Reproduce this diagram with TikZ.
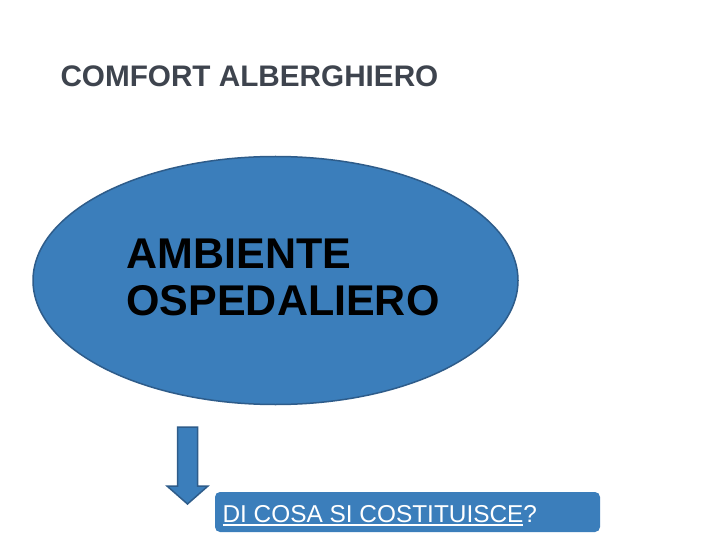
\documentclass[tikz,border=0pt]{standalone}
\usepackage{fontspec}
\setmainfont{Liberation Sans}
\usetikzlibrary{shapes.geometric}
\definecolor{blobfill}{RGB}{59,126,187}
\definecolor{blobline}{RGB}{46,92,138}
\definecolor{titlegray}{RGB}{62,68,78}
\begin{document}
\begin{tikzpicture}[x=1pt,y=-1pt,
  blob/.style={ellipse,fill=blobfill,draw=blobline,line width=1.5pt,inner sep=0pt},
  qbox/.style={rectangle,rounded corners=5pt,fill=blobfill,inner sep=0pt},
  plain/.style={inner sep=0pt,outer sep=0pt}]
\useasboundingbox[fill=white] (0,0) rectangle (720,540);
% title
\node[plain,anchor=base west,text=titlegray,font=\fontsize{29.7}{34}\selectfont\bfseries] (title) at (60.5,87) {COMFORT ALBERGHIERO};
% ellipse
\node[blob,minimum width=485pt,minimum height=248pt] (ell) at (275.5,280.5) {};
\node[plain,anchor=base west,font=\fontsize{43}{47}\selectfont\bfseries] (amb1) at (126.5,268) {AMBIENTE};
\node[plain,anchor=base west,font=\fontsize{43}{47}\selectfont\bfseries] (amb2) at (126.5,315) {OSPEDALIERO};
% arrow
\draw[fill=blobfill,draw=blobline,line width=1.5pt,line join=miter]
  (177.5,427) -- (197.5,427) -- (197.5,486) -- (208,486) -- (187.5,504) -- (167,486) -- (177.5,486) -- cycle;
% question box
\node[qbox,minimum width=385pt,minimum height=40pt] (box) at (407.5,512) {};
\node[plain,anchor=base west,text=white,font=\fontsize{24.4}{28}\selectfont] (q1) at (222.5,522) {DI COSA SI COSTITUISCE};
\node[plain,anchor=base west,text=white,font=\fontsize{24.4}{28}\selectfont] (q2) at (q1.base east) {?};
\draw[white,line width=1.3pt] ([yshift=-3pt]q1.base west) -- ([yshift=-3pt]q1.base east);
\end{tikzpicture}
\end{document}
